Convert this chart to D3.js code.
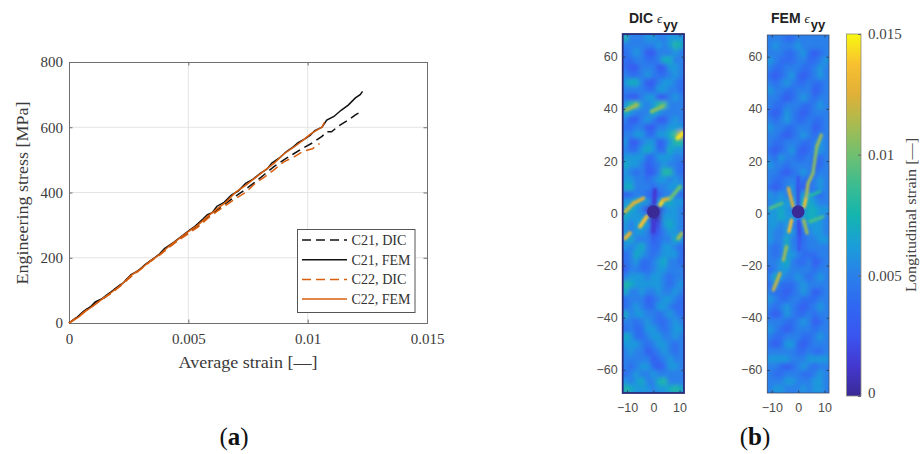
<!DOCTYPE html>
<html>
<head>
<meta charset="utf-8">
<script src="https://cdn.jsdelivr.net/npm/d3@7"></script>
<style>
html, body { margin: 0; padding: 0; background: #fff; }
svg { display: block; }
</style>
</head>
<body>
<svg id="chart"></svg>
<script>
// stress-strain curves, [strain, MPa]
const c21Fem = [[0,0],[.0003,15],[.0006,35],[.0009,50],[.0011,65],[.0015,78],[.0018,98],[.0021,112],[.0024,132],[.0026,148],[.0029,160],[.0032,180],[.0035,195],[.0038,212],[.004,228],[.0044,248],[.0047,265],[.005,282],[.0053,298],[.0056,318],[.0058,332],[.006,338],[.0062,358],[.0065,370],[.0068,392],[.0071,405],[.0074,428],[.0077,440],[.008,458],[.0083,472],[.0085,490],[.0088,505],[.0091,525],[.0094,540],[.0096,553],[.0099,565],[.0101,575],[.0103,590],[.0106,600],[.0108,622],[.0111,633],[.0114,652],[.0117,668],[.012,690],[.0122,700],[.0123,710]];
const c22Fem = [[0,0],[.0004,18],[.0007,36],[.001,52],[.0014,74],[.0018,95],[.0022,118],[.0026,146],[.003,165],[.0034,190],[.0038,210],[.0042,236],[.0046,258],[.005,280],[.0054,300],[.0058,326],[.0062,350],[.0066,372],[.007,402],[.0074,422],[.0078,445],[.0082,468],[.0086,490],[.009,518],[.0094,538],[.0098,560],[.0101,578],[.0104,592],[.0106,600],[.0107,615]];
const c21Dic = [[0,0],[.0004,22],[.0007,40],[.001,55],[.0014,76],[.0018,98],[.0022,120],[.0026,146],[.003,166],[.0034,190],[.0038,210],[.0042,234],[.0046,256],[.005,278],[.0054,298],[.0058,324],[.0062,346],[.0066,368],[.007,390],[.0074,410],[.0078,432],[.0082,456],[.0086,480],[.009,500],[.0094,518],[.0098,536],[.0102,552],[.0106,572],[.0108,586],[.011,586],[.0113,604],[.0117,622],[.012,638],[.0123,650]];
const c22Dic = [[0,0],[.0004,20],[.0007,38],[.001,52],[.0014,74],[.0018,92],[.0022,116],[.0026,142],[.003,164],[.0034,188],[.0038,208],[.0042,232],[.0046,254],[.005,274],[.0054,294],[.0058,320],[.0062,342],[.0066,362],[.007,382],[.0074,400],[.0078,428],[.0082,448],[.0086,470],[.009,494],[.0094,508],[.0098,526],[.0102,534],[.0105,550]];

const legendNames = ["C21, DIC", "C21, FEM", "C22, DIC", "C22, FEM"];
const curveList = [c21Dic, c21Fem, c22Dic, c22Fem];
const curveColors = ["#111111", "#111111", "#d95f0e", "#d95f0e"];
const curveDashes = ["9,5", null, "9,5", null];

const strainTicks = [0, 0.005, 0.01, 0.015];
const strainTickLabels = ["0", "0.005", "0.01", "0.015"];
const stressTicks = [0, 200, 400, 600, 800];

const heatYTicks = [-60, -40, -20, 0, 20, 40, 60];
const heatXTicks = [-10, 0, 10];

// strain maps, top row first, one hex digit per cell = strain in 0.001 units
const dicRows = [
  "85556655666","55555565687","45653355565","44554457755","43355533665","54456544565",
  "67753356654","55554466554","43356633565","68965689555","76555765555","53356533565",
  "44553355666","5566446679c","63356634688","54467644766","66664466655","76653456554",
  "65453358854","66554566565","77555455666","34554335554","66766367766","77652015665",
  "76665016665","65676226765","65665235665","67555345576","65675446654","45765456664",
  "45644567554","35544566555","56665665455","87666665456","75565565565","45553456654",
  "45654466544","75665545654","55456544565","45446654566","76445665565","66654566545",
  "56553456545","55555345655","54566434665","45655655555","65675578555","87666566787"
];
const femRows = [
  "55544555555","56555655555","55544564345","65444554456","54455544565","43456434565",
  "54565445445","65544555345","55434565455","54455544565","43465434555","54565445445",
  "65544555345","55434565455","54455544565","43456434565","54655445445","65545555345",
  "55434565455","54455544565","43456434565","65655666545","56666677655","66765567766",
  "66766567765","66565456665","65566445665","65575445566","54575545555","54566544455",
  "55675445345","45665555455","57655654565","46444565555","54434565345","65445544455",
  "54565434565","43465445455","55544565345","65434555455","54455544565","43466434555",
  "55555445445","66665556666","55434565455","54455544565","55566555665","56655565665"
];

// thin bands too narrow for the grid: [x mm, y mm, strain]
const femStreaks = [
  [[0,3,.002],[0,9,.002],[0,14,.003]],
  [[0.3,-3,.002],[0.5,-9,.002],[0.3,-14,.003]],
  [[2.3,2.5,.015],[3.1,6.4,.0125],[3.8,11.5,.0105],[5.6,15.3,.0115]],
  [[5.6,15.3,.0105],[7.1,25.6,.0105],[8.8,30,.0115]],
  [[-1.9,2.6,.0135],[-3.7,9.6,.0115]],
  [[-2.5,-2.6,.015],[-3.5,-7,.0125]],
  [[-4.4,-12.8,.0125],[-5.6,-17.9,.0095]],
  [[-6.9,-23,.011],[-9.4,-29.4,.013]],
  [[2.1,-2.6,.0115],[3.4,-7.6,.0105]],
  [[-10.6,1.9,.009],[-6.2,3.8,.0095]],
  [[4.4,-3.2,.0095],[9.4,-1.3,.0085]],
  [[3.8,6.4,.0085],[8.1,8.3,.0075]]
];
const dicStreaks = [
  [[0.4,4,.001],[0.6,9,.0015]],
  [[0,-3,.001],[0,-7,.0015]],
  [[2.6,3.2,.015],[3.8,5.1,.0135],[6.4,5.7,.0115],[10.2,10.2,.008]],
  [[-10.8,0.6,.0105],[-7.6,3.8,.0135],[-3.8,5.7,.0115]],
  [[-2.5,-1.3,.015],[-5.1,-5.1,.0125]],
  [[-10.8,-9.6,.014],[-8.9,-7.6,.0115]],
  [[9.5,-9.6,.0105],[10.8,-7.7,.0115]],
  [[-10.4,39.6,.0115],[-6.3,41.5,.0105]],
  [[-0.6,39,.0105],[3.6,41,.0105]],
  [[9.2,28.8,.014],[11.4,30.7,.015]]
];

const colorbarTicks = [0, 0.005, 0.01, 0.015];
const colorbarTickLabels = ["0", "0.005", "0.01", "0.015"];
const parula = ["#3a2a95", "#4338d0", "#3a55f0", "#2f68f2", "#2a80ea", "#1a9ed8", "#14b5ae", "#3cbc90", "#70c070", "#a8bb50", "#e0b038", "#f8c030", "#f8f810"];

const W = 921, H = 454;
const serif = "'Liberation Serif', serif";
const sans = "'Liberation Sans', Arial, sans-serif";

const svg = d3.select("#chart").attr("width", W).attr("height", H);
const defs = svg.append("defs");

// (a) stress-strain plot
const xScale = d3.scaleLinear().domain([0, 0.015]).range([69, 427]);
const yScale = d3.scaleLinear().domain([0, 800]).range([323, 62]);

const left = svg.append("g");

// Grid
left.append("g").selectAll("line").data(strainTicks.slice(1, 3)).enter().append("line")
  .attr("x1", d => xScale(d)).attr("x2", d => xScale(d))
  .attr("y1", yScale(0)).attr("y2", yScale(800))
  .attr("stroke", "#e4e4e4");
left.append("g").selectAll("line").data(stressTicks.slice(1, 4)).enter().append("line")
  .attr("x1", xScale(0)).attr("x2", xScale(0.015))
  .attr("y1", d => yScale(d)).attr("y2", d => yScale(d))
  .attr("stroke", "#e4e4e4");

// Axes, ticks pointing inward on all four sides
function styleAxis(sel, font, size, color) {
  sel.select(".domain").attr("stroke", "#6f6f6f");
  sel.selectAll(".tick line").attr("stroke", "#6f6f6f");
  sel.selectAll("text").attr("font-family", font).attr("font-size", size).attr("fill", color);
}

left.append("g").attr("transform", `translate(0,${yScale(0)})`)
  .call(d3.axisBottom(xScale).tickValues(strainTicks).tickFormat((d, i) => strainTickLabels[i]).tickSize(-3.5).tickPadding(10))
  .call(styleAxis, serif, 15, "#3a3a3a");
left.append("g").attr("transform", `translate(0,${yScale(800)})`)
  .call(d3.axisTop(xScale).tickValues(strainTicks).tickFormat("").tickSize(-3.5))
  .call(styleAxis, serif, 15, "#3a3a3a");
left.append("g").attr("transform", `translate(${xScale(0)},0)`)
  .call(d3.axisLeft(yScale).tickValues(stressTicks).tickSize(-3.5).tickPadding(6))
  .call(styleAxis, serif, 15, "#3a3a3a");
left.append("g").attr("transform", `translate(${xScale(0.015)},0)`)
  .call(d3.axisRight(yScale).tickValues(stressTicks).tickFormat("").tickSize(-3.5))
  .call(styleAxis, serif, 15, "#3a3a3a");

// Curves
const lineGen = d3.line().x(d => xScale(d[0])).y(d => yScale(d[1]));
curveList.forEach((pts, i) => {
  left.append("path")
    .attr("d", lineGen(pts))
    .attr("fill", "none")
    .attr("stroke", curveColors[i])
    .attr("stroke-width", 1.5)
    .attr("stroke-dasharray", curveDashes[i]);
});

// Legend
const legend = left.append("g");
legend.append("rect")
  .attr("x", 297.5).attr("y", 229.5).attr("width", 117.5).attr("height", 83)
  .attr("fill", "#fff").attr("stroke", "#555");
legendNames.forEach((name, i) => {
  const ly = 240 + i * 19.7;
  legend.append("line")
    .attr("x1", 302).attr("x2", 347).attr("y1", ly).attr("y2", ly)
    .attr("stroke", curveColors[i]).attr("stroke-width", 1.5)
    .attr("stroke-dasharray", curveDashes[i]);
  legend.append("text")
    .attr("x", 351.5).attr("y", ly + 5)
    .attr("font-family", serif).attr("font-size", 15).attr("fill", "#333")
    .attr("textLength", i % 2 ? 59 : 55).attr("lengthAdjust", "spacingAndGlyphs")
    .text(name);
});

// Axis labels
left.append("text")
  .attr("x", 248).attr("y", 368).attr("text-anchor", "middle")
  .attr("font-family", serif).attr("font-size", 16).attr("fill", "#3a3a3a")
  .attr("textLength", 139).attr("lengthAdjust", "spacingAndGlyphs")
  .text("Average strain [\u2014]");
left.append("text")
  .attr("transform", "translate(28,193) rotate(-90)")
  .attr("text-anchor", "middle")
  .attr("font-family", serif).attr("font-size", 16).attr("fill", "#3a3a3a")
  .attr("textLength", 183).attr("lengthAdjust", "spacingAndGlyphs")
  .text("Engineering stress [MPa]");

// (b) strain maps
const strainColor = d3.scaleLinear()
  .domain(parula.map((c, i) => 0.015 * i / (parula.length - 1)))
  .range(parula);

const blur = defs.append("filter").attr("id", "soft")
  .attr("x", "-10%").attr("y", "-5%").attr("width", "120%").attr("height", "110%");
blur.append("feGaussianBlur").attr("stdDeviation", 2);
const blurThin = defs.append("filter").attr("id", "softThin")
  .attr("x", "-30%").attr("y", "-10%").attr("width", "160%").attr("height", "120%");
blurThin.append("feGaussianBlur").attr("stdDeviation", 0.9);

function drawMap(opts) {
  const { id, rows, streaks, title, x0, x1, y0, y1, yZero, frame, frameWidth, streakWidth, titleX } = opts;
  const mapX = d3.scaleLinear().domain([-11.7, 11.7]).range([x0, x1]);
  const mapY = d3.scaleLinear().domain([(yZero - y0) / 2.61, (yZero - y1) / 2.61]).range([y0, y1]);
  const colBand = d3.scaleBand().domain(d3.range(rows[0].length)).range([x0, x1]);
  const rowBand = d3.scaleBand().domain(d3.range(rows.length)).range([y0, y1]);

  const cells = [];
  rows.forEach((r, j) => r.split("").forEach((c, i) => cells.push({ i, j, v: parseInt(c, 16) * 0.001 })));

  defs.append("clipPath").attr("id", "clip-" + id).append("rect")
    .attr("x", x0).attr("y", y0).attr("width", x1 - x0).attr("height", y1 - y0);

  const g = svg.append("g");
  const body = g.append("g").attr("clip-path", `url(#clip-${id})`);
  body.append("rect")
    .attr("x", x0).attr("y", y0).attr("width", x1 - x0).attr("height", y1 - y0)
    .attr("fill", strainColor(0.005));
  body.append("g").attr("filter", "url(#soft)")
    .selectAll("rect").data(cells).enter().append("rect")
    .attr("x", d => colBand(d.i) - 0.3)
    .attr("y", d => rowBand(d.j) - 0.3)
    .attr("width", colBand.bandwidth() + 0.6)
    .attr("height", rowBand.bandwidth() + 0.6)
    .attr("fill", d => strainColor(d.v));

  const streakG = body.append("g").attr("filter", "url(#softThin)");
  streaks.forEach(s => {
    d3.pairs(s).forEach(([a, b]) => {
      streakG.append("line")
        .attr("x1", mapX(a[0])).attr("y1", mapY(a[1]))
        .attr("x2", mapX(b[0])).attr("y2", mapY(b[1]))
        .attr("stroke", strainColor((a[2] + b[2]) / 2))
        .attr("stroke-width", streakWidth)
        .attr("stroke-linecap", "round");
    });
  });

  // Hole
  body.append("circle")
    .attr("cx", mapX(0)).attr("cy", mapY(0.6)).attr("r", 6.4)
    .attr("fill", strainColor(0));

  // Frame and ticks
  g.append("rect")
    .attr("x", x0).attr("y", y0).attr("width", x1 - x0).attr("height", y1 - y0)
    .attr("fill", "none").attr("stroke", frame).attr("stroke-width", frameWidth);

  const tickColor = "#33415c";
  const yAxis = g.append("g").attr("transform", `translate(${x0},0)`)
    .call(d3.axisLeft(mapY).tickValues(heatYTicks).tickSize(-2.5).tickPadding(5));
  const yAxisR = g.append("g").attr("transform", `translate(${x1},0)`)
    .call(d3.axisRight(mapY).tickValues(heatYTicks).tickFormat("").tickSize(-2.5));
  const xAxis = g.append("g").attr("transform", `translate(0,${y1})`)
    .call(d3.axisBottom(mapX).tickValues(heatXTicks).tickSize(-2.5).tickPadding(10));
  const xAxisT = g.append("g").attr("transform", `translate(0,${y0})`)
    .call(d3.axisTop(mapX).tickValues(heatXTicks).tickFormat("").tickSize(-2.5));
  [yAxis, yAxisR, xAxis, xAxisT].forEach(a => {
    a.select(".domain").remove();
    a.selectAll(".tick line").attr("stroke", tickColor);
    a.selectAll("text").attr("font-family", sans).attr("font-size", 12.5).attr("fill", "#4d4d4d");
  });

  // Title
  const t = g.append("text")
    .attr("x", titleX).attr("y", 23)
    .attr("font-family", sans).attr("font-size", 14).attr("font-weight", "bold").attr("fill", "#222");
  t.append("tspan").text(title + " ");
  t.append("tspan").attr("font-family", serif).attr("font-style", "italic").attr("font-weight", "normal").attr("font-size", 13).text("\u03F5");
  t.append("tspan").attr("dy", 6).attr("dx", 1).attr("font-size", 13).text("yy");
}

drawMap({ id: "dic", rows: dicRows, streaks: dicStreaks, title: "DIC", x0: 622.7, x1: 684, y0: 34, y1: 393, yZero: 213.3,
  frame: "#2b2a78", frameWidth: 1.8, streakWidth: 3.8, titleX: 629 });
drawMap({ id: "fem", rows: femRows, streaks: femStreaks, title: "FEM", x0: 767.3, x1: 829, y0: 35, y1: 393, yZero: 213.3,
  frame: "#3c4a66", frameWidth: 0.8, streakWidth: 3.2, titleX: 771 });

// Colorbar
const barY = d3.scaleLinear().domain([0, 0.015]).range([396, 34]);
const grad = defs.append("linearGradient").attr("id", "parula")
  .attr("x1", 0).attr("x2", 0).attr("y1", 1).attr("y2", 0);
parula.forEach((c, i) => {
  grad.append("stop").attr("offset", i / (parula.length - 1)).attr("stop-color", c);
});
svg.append("rect")
  .attr("x", 846.5).attr("y", 34).attr("width", 14.5).attr("height", 362)
  .attr("fill", "url(#parula)").attr("stroke", "#8f8f7a").attr("stroke-width", 0.8);
const barAxis = svg.append("g").attr("transform", "translate(861,0)")
  .call(d3.axisRight(barY).tickValues(colorbarTicks).tickFormat((d, i) => colorbarTickLabels[i]).tickSize(-3).tickPadding(7));
barAxis.select(".domain").remove();
barAxis.selectAll(".tick line").attr("stroke", "#666");
barAxis.selectAll("text").attr("font-family", serif).attr("font-size", 15).attr("fill", "#444");
barAxis.selectAll(".tick").filter(d => d === 0).select("text").attr("dy", "0.1em");

svg.append("text")
  .attr("transform", "translate(916,215) rotate(-90)")
  .attr("text-anchor", "middle")
  .attr("font-family", serif).attr("font-size", 14.5).attr("fill", "#444")
  .attr("textLength", 154).attr("lengthAdjust", "spacingAndGlyphs")
  .text("Longitudinal strain [\u2014]");

// Captions
[["a", 234], ["b", 755]].forEach(([letter, cx]) => {
  const cap = svg.append("text")
    .attr("x", cx).attr("y", 445).attr("text-anchor", "middle")
    .attr("font-family", serif).attr("font-size", 25).attr("fill", "#111");
  cap.append("tspan").text("(");
  cap.append("tspan").attr("font-weight", "bold").text(letter);
  cap.append("tspan").text(")");
});
</script>
</body>
</html>
